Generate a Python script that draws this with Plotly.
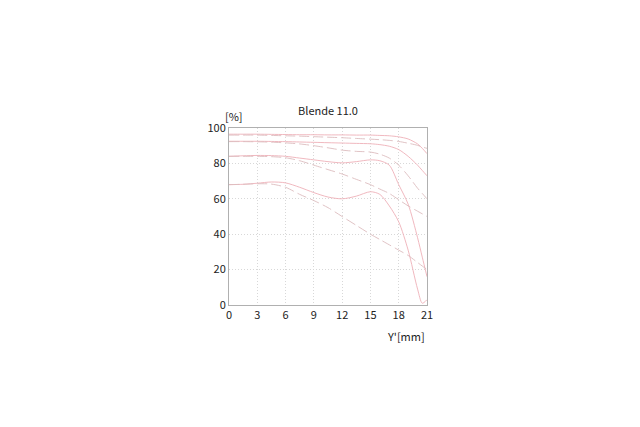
import plotly.graph_objects as go

# Bildhöhe Y' [mm] und Kontrast [%]
y_mm = [0, 1.5, 3, 4.5, 6, 7.5, 9, 10.5, 12, 13.5, 15, 16, 17, 18, 19, 20, 20.5, 21]

s96 = [96.5, 96.5, 96.5, 96.4, 96.3, 96.2, 96.2, 96.1, 96.1, 96.0, 96.0, 95.8, 95.6, 95.0, 93.8, 91.0, 88.5, 85.5]
t96 = [96.0, 96.0, 96.0, 95.8, 95.6, 95.4, 95.1, 94.8, 94.5, 94.1, 93.7, 93.4, 93.0, 92.4, 91.4, 90.2, 89.3, 88.5]
s92 = [92.5, 92.5, 92.5, 92.4, 92.3, 92.1, 91.9, 91.7, 91.5, 91.3, 91.1, 90.6, 89.7, 87.8, 84.0, 79.0, 76.0, 73.0]
t92 = [92.3, 92.3, 92.2, 92.0, 91.6, 91.0, 90.0, 88.8, 87.5, 86.8, 86.4, 85.2, 83.0, 79.0, 73.0, 66.0, 63.0, 60.0]
s84 = [84.0, 84.3, 84.5, 84.4, 84.0, 83.0, 82.0, 81.0, 80.3, 81.0, 82.0, 81.5, 79.0, 68.0, 57.0, 38.0, 27.0, 16.0]
t84 = [84.0, 84.0, 84.0, 83.8, 83.2, 81.5, 79.0, 76.5, 74.0, 71.0, 68.0, 65.5, 63.0, 59.5, 56.0, 53.0, 51.5, 50.0]
s68 = [68.0, 68.2, 68.8, 69.5, 69.0, 66.5, 63.5, 61.0, 60.0, 61.5, 64.0, 62.5, 56.0, 47.0, 31.0, 9.0, 1.0, 3.0]
t68 = [68.0, 68.2, 68.5, 68.3, 66.5, 62.5, 59.0, 55.0, 50.0, 45.0, 40.0, 37.0, 34.0, 31.0, 28.0, 24.0, 22.0, 20.0]

x_ticks = [0, 3, 6, 9, 12, 15, 18, 21]
y_ticks = [0, 20, 40, 60, 80, 100]

pink = "#eeb0b8"
mauve = "#dcbcbe"

fig = go.Figure()
for vals in [s96, s92, s84, s68]:
    fig.add_trace(go.Scatter(x=y_mm, y=vals, mode="lines",
                             line=dict(color=pink, width=0.9, shape="spline", smoothing=0.8)))
for vals in [t96, t92, t84, t68]:
    fig.add_trace(go.Scatter(x=y_mm, y=vals, mode="lines",
                             line=dict(color=mauve, width=0.9, dash="10px,4px", shape="spline", smoothing=0.8)))

# body hat 8px Rand, daher l/t um 8 kleiner
fig.update_layout(
    width=640, height=427,
    paper_bgcolor="white", plot_bgcolor="white",
    margin=dict(l=221, r=221, t=120, b=130, autoexpand=False),
    showlegend=False,
    font=dict(family="Noto Sans CJK JP", size=11, color="#222222"),
    title=dict(text="Blende 11.0", x=0.5, xanchor="center", y=0.759, yanchor="middle",
               font=dict(size=11, color="#222222")),
)
fig.update_xaxes(range=[0, 21], tickvals=x_ticks, showgrid=True, gridcolor="#d8d8d8", griddash="1px,2px",
                 gridwidth=1, showline=True, linecolor="#b0b0b0", linewidth=1, mirror=True, zeroline=False,
                 ticks="", ticklen=0)
fig.update_yaxes(range=[0, 100], tickvals=y_ticks, showgrid=True, gridcolor="#d8d8d8", griddash="1px,2px",
                 gridwidth=1, showline=True, linecolor="#b0b0b0", linewidth=1, mirror=True, zeroline=False,
                 ticks="", ticklen=0)

fig.add_annotation(text="[%]", xref="paper", yref="paper", x=-0.03, y=1.01,
                   xanchor="left", yanchor="bottom", showarrow=False, font=dict(size=11))
fig.add_annotation(text="Y'[mm]", xref="paper", yref="paper", x=1.0, y=-0.12,
                   xanchor="right", yanchor="top", showarrow=False, font=dict(size=11))

fig.write_html("out.html")
